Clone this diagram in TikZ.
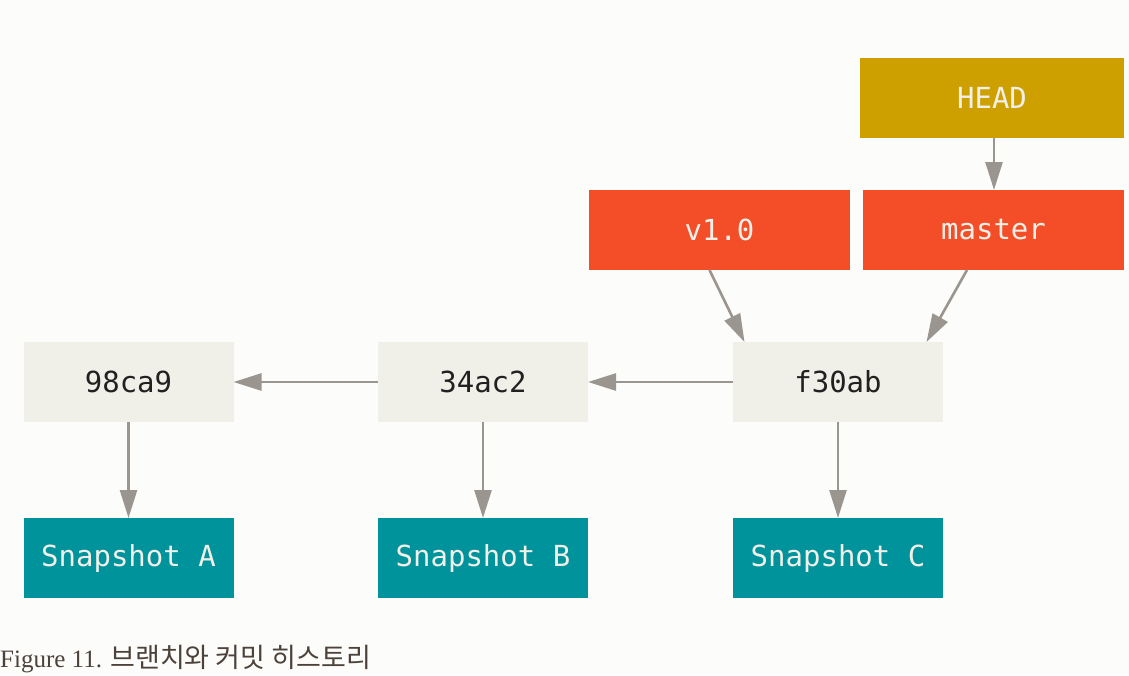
\documentclass[tikz,border=0pt]{standalone}
\usepackage{fontspec}
\setmonofont{DejaVu Sans Mono}
\setmainfont{Liberation Serif}
\newfontfamily\kofont{Noto Sans CJK KR}
\usetikzlibrary{arrows.meta}
\definecolor{bgcol}{RGB}{252,252,250}
\definecolor{headcol}{RGB}{205,160,0}
\definecolor{refcol}{RGB}{244,78,41}
\definecolor{commitcol}{RGB}{240,239,232}
\definecolor{snapcol}{RGB}{0,147,155}
\definecolor{arrowcol}{RGB}{154,149,142}
\definecolor{captioncol}{RGB}{76,66,58}
\begin{document}
\begin{tikzpicture}[x=1pt,y=-1pt,
  box/.style={inner sep=0pt, outer sep=0pt, minimum height=80pt,
    font=\ttfamily\fontsize{29}{34}\selectfont},
  commit/.style={box, fill=commitcol, text=black!87, minimum width=210pt},
  snap/.style={box, fill=snapcol, text=commitcol, minimum width=210pt},
  branch/.style={box, fill=refcol, text=commitcol, minimum width=261pt},
  headbox/.style={box, fill=headcol, text=commitcol, minimum width=264pt},
  link/.style={draw=arrowcol, line width=2.6pt,
    -{Triangle[length=28pt,width=17pt,fill=arrowcol]}}]
\fill[bgcol] (0,0) rectangle (1129,675);

% commits
\node[commit] (c1) at (128.5,382) {98ca9};
\node[commit] (c2) at (483,382) {34ac2};
\node[commit] (c3) at (838,382) {f30ab};

% snapshots
\node[snap] (s1) at (128.5,558) {Snapshot A};
\node[snap] (s2) at (483,558) {Snapshot B};
\node[snap] (s3) at (838,558) {Snapshot C};

% branch, tag and HEAD
\node[branch] (tag) at (719.5,230) {v1.0};
\node[branch] (master) at (993.5,230) {master};
\node[headbox] (head) at (992,98) {HEAD};

\draw[link] (c2.west) -- (c1.east);
\draw[link] (c3.west) -- (c2.east);
\draw[link] (c1.south) -- (s1.north);
\draw[link] (c2.south) -- (s2.north);
\draw[link] (c3.south) -- (s3.north);
\draw[link] ([xshift=2pt]head.south) -- ([xshift=2pt]head.south |- master.north);
\draw[link] ([xshift=-10pt]tag.south) -- ([xshift=11.5pt]c3.north west);
\draw[link] ([xshift=-26.5pt]master.south) -- ([xshift=-16.5pt]c3.north east);

\node[anchor=base west, inner sep=0pt, text=captioncol] (caption) at (0,667)
  {\fontsize{25}{30}\selectfont Figure 11. {\kofont\fontsize{27}{30}\selectfont 브랜치와 커밋 히스토리}};
\end{tikzpicture}
\end{document}
